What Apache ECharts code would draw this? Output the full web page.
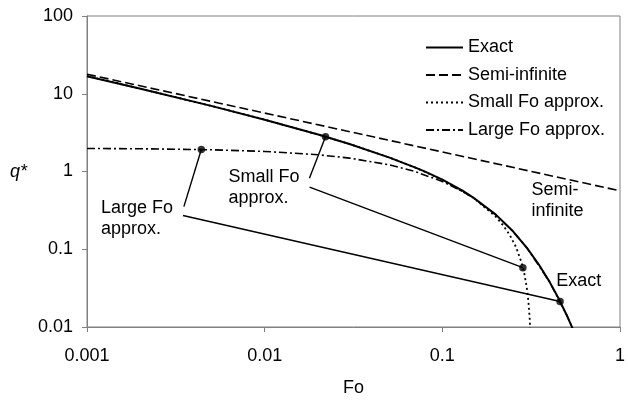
<!DOCTYPE html>
<html>
<head>
<meta charset="utf-8">
<script src="https://cdn.jsdelivr.net/npm/echarts@6/dist/echarts.min.js"></script>
<style>
  html, body { margin: 0; padding: 0; background: #fff; }
  #chart { width: 628px; height: 402px; }
</style>
</head>
<body>
<div id="chart"></div>
<script>
// Dimensionless heat flux q* against Fourier number Fo (log-log)

// Axis ticks
const foTicks = [0.001, 0.01, 0.1, 1];
const foTickLabels = ['0.001', '0.01', '0.1', '1'];
const qTicks = [0.01, 0.1, 1, 10, 100];
const qTickLabels = ['0.01', '0.1', '1', '10', '100'];

// Exact solution
const exactFo = [0.001, 0.002, 0.005, 0.01, 0.02, 0.03, 0.05, 0.07, 0.08, 0.1, 0.13, 0.15, 0.2, 0.25, 0.3, 0.35, 0.4, 0.45, 0.5, 0.55];
const exactQ  = [16.84, 11.62, 6.98, 4.64, 2.99, 2.26, 1.52, 1.13, 0.995, 0.784, 0.566, 0.460, 0.279, 0.170, 0.1035, 0.0632, 0.0386, 0.0236, 0.0144, 0.0088];

// Semi-infinite solid
const semiFo = [0.001, 0.01, 0.1, 1];
const semiQ  = [17.84, 5.642, 1.784, 0.5642];

// Small Fo approximation
const smallFo = [0.001, 0.002, 0.005, 0.01, 0.02, 0.03, 0.05, 0.07, 0.1, 0.15, 0.2, 0.22, 0.24, 0.26, 0.28, 0.29, 0.3, 0.305, 0.31, 0.313];
const smallQ  = [16.84, 11.62, 6.98, 4.64, 2.99, 2.26, 1.52, 1.13, 0.784, 0.457, 0.2616, 0.2028, 0.1517, 0.1065, 0.0662, 0.0477, 0.0301, 0.0216, 0.0133, 0.0084];

// Large Fo approximation
const largeFo = [0.001, 0.002, 0.005, 0.01, 0.02, 0.03, 0.05, 0.07, 0.1, 0.13, 0.15, 0.2, 0.25, 0.3, 0.4, 0.5, 0.55];
const largeQ  = [1.980, 1.961, 1.904, 1.812, 1.642, 1.487, 1.221, 1.002, 0.745, 0.554, 0.455, 0.2778, 0.1696, 0.1035, 0.0386, 0.0144, 0.0088];

// Marked points on the curves
const markFo = [0.0044, 0.022, 0.284, 0.46];
const markQ  = [1.92, 2.80, 0.058, 0.0213];

// Callout texts, their anchors (Fo, q) and leader lines from text to marked point
const noteTexts = ['Large Fo\napprox.', 'Small Fo\napprox.', 'Semi-\ninfinite', 'Exact'];
const noteFo = [0.00120, 0.00625, 0.318, 0.438];
const noteQ  = [0.246, 0.623, 0.427, 0.0394];
const leaderFrom = [[0.00351, 0.353], [0.00347, 0.272], [0.01786, 0.82], [0.0179, 0.631]];
const leaderTo   = [[0.0044, 1.92], [0.46, 0.0213], [0.022, 2.80], [0.284, 0.058]];

const zip = (xs, ys) => xs.map((x, i) => [x, ys[i]]);
const axisGray = '#808080';
const ink = '#000';
const font = 'Liberation Sans, Arial, Helvetica, sans-serif';
const fs = 18;

function tickText(ticks, labels) {
  return v => {
    const i = ticks.findIndex(t => Math.abs(Math.log10(t) - Math.log10(v)) < 1e-6);
    return i >= 0 ? labels[i] : '';
  };
}

const curveBase = {
  type: 'line', symbol: 'none', showSymbol: false, silent: true, clip: true,
  itemStyle: { color: '#000' }
};

const series = [
  Object.assign({}, curveBase, {
    name: 'Large Fo approx.', data: zip(largeFo, largeQ), z: 2,
    lineStyle: { color: '#000', width: 1.6, type: [8, 3, 2, 3] }
  }),
  Object.assign({}, curveBase, {
    name: 'Small Fo approx.', data: zip(smallFo, smallQ), z: 2,
    lineStyle: { color: '#000', width: 1.8, type: [2, 3] }
  }),
  Object.assign({}, curveBase, {
    name: 'Semi-infinite', data: zip(semiFo, semiQ), z: 3,
    lineStyle: { color: '#000', width: 1.6, type: [9, 4] }
  }),
  Object.assign({}, curveBase, {
    name: 'Exact', data: zip(exactFo, exactQ), z: 4,
    lineStyle: { color: '#000', width: 2 }
  })
];

leaderFrom.forEach((p, i) => {
  series.push(Object.assign({}, curveBase, {
    name: 'leader' + i, data: [p, leaderTo[i]], z: 5,
    lineStyle: { color: '#000', width: 1.4 }
  }));
});

series.push({
  type: 'scatter', name: 'marks', data: zip(markFo, markQ), z: 6, silent: true,
  symbol: 'circle', symbolSize: 7.5, itemStyle: { color: '#000' }
});

const chart = echarts.init(document.getElementById('chart'), null, { renderer: 'canvas' });
chart.setOption({
  animation: false,
  backgroundColor: '#fff',
  textStyle: { fontFamily: font },
  grid: { left: 87, right: 2, top: 16, bottom: 69, show: true, borderColor: axisGray, borderWidth: 1 },
  legend: {
    orient: 'vertical', left: 420, top: 33,
    itemWidth: 37, itemHeight: 14, itemGap: 8.5,
    data: ['Exact', 'Semi-infinite', 'Small Fo approx.', 'Large Fo approx.'],
    itemStyle: { opacity: 0 },
    textStyle: { fontSize: fs, color: ink, lineHeight: 19, fontFamily: font },
    selectedMode: false
  },
  xAxis: {
    type: 'log', logBase: 10, min: foTicks[0], max: foTicks[foTicks.length - 1],
    name: 'Fo', nameLocation: 'middle', nameGap: 52,
    nameTextStyle: { fontSize: fs, color: ink },
    axisLine: { show: true, lineStyle: { color: axisGray, width: 1 } },
    axisTick: { show: true, inside: false, length: 5, lineStyle: { color: axisGray } },
    minorTick: { show: false },
    axisLabel: { fontSize: fs, color: ink, margin: 20, formatter: tickText(foTicks, foTickLabels) },
    splitLine: { show: false }
  },
  yAxis: {
    type: 'log', logBase: 10, min: qTicks[0], max: qTicks[qTicks.length - 1],
    name: 'q*', nameLocation: 'middle', nameGap: 60, nameRotate: 0,
    nameTextStyle: { fontSize: fs, color: ink, fontStyle: 'italic' },
    axisLine: { show: true, lineStyle: { color: axisGray, width: 1 } },
    axisTick: { show: true, inside: false, length: 5, lineStyle: { color: axisGray } },
    minorTick: { show: false },
    axisLabel: { fontSize: fs, color: ink, margin: 14, formatter: tickText(qTicks, qTickLabels) },
    splitLine: { show: false }
  },
  series: series
});

// Callout texts placed at their data anchors
chart.setOption({
  graphic: noteTexts.map((t, i) => {
    const p = chart.convertToPixel({ gridIndex: 0 }, [noteFo[i], noteQ[i]]);
    return {
      type: 'text', x: p[0], y: p[1], z: 10, silent: true,
      style: {
        text: t, fill: ink, font: fs + 'px ' + font, lineHeight: 21,
        align: 'left', verticalAlign: 'middle'
      }
    };
  })
});
</script>
</body>
</html>
